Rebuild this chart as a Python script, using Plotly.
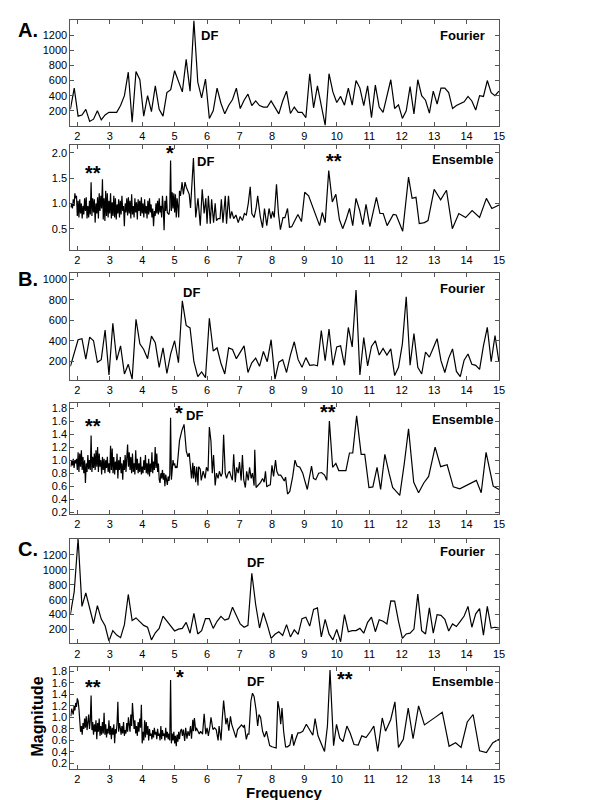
import plotly.graph_objects as go

# ---------------- DATA ----------------
# Fourier spectra: magnitude on evenly spaced frequency bins (start 1.786 Hz, bin 0.119 Hz)
fourier_start = 1.786
fourier_bin = 0.119

a_fourier = [220,500,130,145,220,60,90,200,80,145,180,180,180,270,400,710,50,720,610,130,
             400,190,530,220,130,440,480,730,580,450,880,460,1390,580,370,620,100,200,500,300,
             160,270,350,500,230,340,420,270,330,270,250,250,330,240,160,330,460,165,250,180,
             180,110,690,240,530,270,10,690,450,310,390,275,500,275,600,500,270,530,110,540,
             250,180,390,610,230,280,100,200,520,160,610,400,340,170,460,290,500,500,440,230,
             270,300,320,390,330,210,400,390,600,440,400,460]

b_fourier = [150,290,410,420,220,435,400,190,215,505,65,570,210,350,75,170,25,610,370,315,
             225,445,380,140,330,80,275,400,185,790,550,525,195,50,95,40,620,300,330,180,
             75,330,315,225,290,350,90,185,230,150,295,195,410,25,190,215,90,260,390,215,
             140,235,160,165,155,500,205,515,160,340,350,160,530,340,895,65,430,155,345,400,
             260,325,260,320,60,140,370,830,160,470,140,75,290,240,330,420,205,90,230,320,
             100,50,210,270,170,160,120,350,530,195,450,195]

c_fourier = [400,710,1420,510,690,490,280,520,340,250,45,185,125,90,265,670,320,355,310,255,
             230,60,155,215,380,310,255,180,205,215,295,150,415,140,185,345,345,215,310,375,
             325,345,500,375,275,230,255,955,535,220,425,265,80,135,170,120,265,100,195,135,
             345,365,245,470,490,100,335,140,60,200,35,400,170,185,185,215,150,295,365,170,
             330,310,275,585,580,310,80,140,150,205,675,185,140,490,150,400,390,335,180,275,
             240,310,380,510,230,410,480,125,510,220,230,220]

# Ensemble spectra: dense low-frequency part (bins of 0.025 Hz from 1.8 Hz) ...
ens_dense_start = 1.8
ens_dense_bin = 0.025

a_ens_dense = [0.92,1.0,0.9,1.08,0.95,1.2,1.1,1.15,0.75,1.05,0.72,1.08,0.8,1.0,0.7,0.95,0.78,1.1,0.85,1.12,
               0.7,0.95,0.72,1.05,0.78,1.42,0.75,1.1,0.82,1.08,0.62,1.0,0.8,1.12,0.7,1.2,0.85,1.15,0.9,1.48,
               0.68,1.1,0.65,1.25,0.75,1.2,0.72,1.05,0.8,1.2,0.7,1.02,0.75,1.15,0.72,1.1,0.68,0.98,0.8,1.08,
               0.72,1.05,0.78,1.15,0.85,0.95,0.55,1.0,0.82,1.1,0.76,1.12,0.8,1.05,0.7,1.18,0.78,0.95,0.72,1.1,
               0.82,1.02,0.68,1.08,0.85,1.05,0.75,1.12,0.8,1.0,0.72,1.08,0.8,0.95,0.7,1.05,0.78,1.1,0.82,0.98,
               0.72,0.9,0.55,0.85,0.75,1.0,0.8,1.05,0.78,1.1,0.82,0.95,0.72,1.15,0.9,0.47,1.05,0.85,1.15,0.82,
               0.8,0.78,0.9,1.85,0.85,1.22,0.9,1.2,0.82,1.18,0.72,1.1,0.95,0.72,1.25]

b_ens_dense = [0.9,1.0,0.92,1.02,0.88,1.0,0.95,1.02,0.85,1.12,0.82,1.1,0.9,1.15,0.85,1.05,0.8,1.0,0.65,0.95,
               0.82,1.08,0.86,1.0,0.85,1.38,0.82,1.05,0.88,1.1,0.85,1.15,0.9,1.2,0.82,1.1,0.9,1.0,0.78,1.05,
               0.85,1.02,0.8,1.0,0.88,1.05,0.82,0.95,0.8,1.22,0.85,1.18,0.8,1.05,0.78,0.98,0.85,1.1,0.72,1.0,
               0.85,1.05,0.8,0.95,0.7,1.0,0.85,1.08,0.82,1.0,1.24,0.9,1.12,0.85,1.05,0.8,1.1,0.82,0.95,0.78,
               1.15,0.85,1.02,0.8,0.95,0.82,1.05,0.78,0.9,0.8,1.0,0.85,1.08,0.8,0.95,0.78,1.02,0.75,0.95,0.82,
               1.12,0.8,0.98,0.85,1.2,0.88,1.1,0.82,0.95,0.7,0.65,0.8,0.72,0.85,0.7,0.8,0.6,0.78,0.7,0.62,
               0.75,0.68,0.78,1.65,0.7,0.95,1.0,0.92,0.95,0.88,0.9,0.88,1.0,1.1,1.3]

c_ens_dense = [1.02,1.15,1.1,1.05,1.2,1.12,1.25,1.18,1.33,1.28,1.15,0.95,0.75,0.85,0.7,0.9,0.8,0.98,0.82,1.02,
               0.78,0.92,1.05,0.8,0.95,1.38,0.78,0.92,0.7,0.88,0.75,0.95,0.62,0.9,0.75,0.98,0.68,0.85,0.7,0.92,
               0.72,1.08,0.7,0.88,0.65,0.8,0.72,0.95,0.7,0.85,0.62,0.82,0.7,0.88,0.55,0.8,0.72,0.9,1.27,0.75,
               0.9,0.82,0.7,0.85,0.72,0.92,0.68,0.78,0.72,0.9,0.75,1.0,0.85,0.75,1.05,0.85,1.25,0.9,0.8,0.95,
               0.72,0.85,0.68,0.92,0.75,0.98,0.82,1.22,0.55,0.75,0.6,0.95,0.65,0.92,0.7,0.85,0.6,0.8,0.68,0.72,
               0.62,0.78,0.65,0.82,0.7,0.75,0.62,0.8,0.68,0.72,0.6,0.85,0.62,0.78,0.68,0.72,0.6,0.82,0.65,0.75,
               0.62,0.72,0.6,1.65,0.55,0.72,0.6,0.75,0.55,0.68,0.5,0.7,0.58,0.75,0.62]

# ... and sparse high-frequency part (explicit frequency / magnitude pairs)
a_ens_f = [5.18,5.23,5.27,5.32,5.36,5.45,5.49,5.58,5.65,5.72,5.79,5.85,5.91,5.96,6.0,6.04,6.1,6.14,6.2,6.25,
           6.29,6.34,6.4,6.44,6.49,6.56,6.6,6.66,6.71,6.76,6.82,6.89,6.96,7.02,7.09,7.15,7.21,7.27,7.33,7.38,
           7.45,7.51,7.56,7.64,7.71,7.77,7.84,7.91,7.97,8.02,8.07,8.14,8.2,8.26,8.34,8.4,8.48,8.54,8.61,8.69,
           8.8,8.91,9.01,9.13,9.24,9.35,9.47,9.55,9.64,9.75,9.86,9.97,10.08,10.18,10.28,10.39,10.49,10.59,10.7,10.8,
           10.9,11.02,11.12,11.22,11.33,11.43,11.55,11.74,11.83,12.03,12.21,12.32,12.44,12.54,12.7,12.81,13.0,13.2,13.38,13.56,
           13.76,13.97,14.17,14.4,14.61,14.78,15.0]
a_ens_v = [1.15,1.42,1.18,1.42,1.32,1.18,0.91,1.9,0.72,1.1,0.56,1.28,0.8,1.1,0.6,1.15,0.6,1.08,0.62,1.0,
           0.66,0.7,0.7,1.08,0.62,1.15,0.6,1.15,0.7,0.84,0.7,0.77,0.62,0.74,0.66,0.8,0.77,1.0,1.33,0.8,
           0.72,0.9,1.15,0.74,0.52,0.9,0.56,0.9,0.7,0.84,0.72,1.38,0.8,0.48,0.72,0.72,0.9,0.53,0.54,0.64,
           0.78,0.64,1.22,1.15,0.97,0.77,0.56,0.82,0.62,1.65,1.03,1.18,0.68,0.5,0.67,0.9,0.56,1.1,0.87,0.58,
           0.98,0.54,0.8,1.12,0.8,0.8,0.56,0.78,0.77,0.45,1.52,1.1,1.12,0.6,0.62,0.66,1.28,1.07,1.26,0.5,
           0.8,0.72,0.86,0.72,1.1,0.9,0.97]

b_ens_f = [5.22,5.29,5.36,5.41,5.45,5.49,5.52,5.56,5.58,5.61,5.65,5.68,5.72,5.74,5.79,5.82,5.88,5.94,5.98,6.03,
           6.07,6.12,6.16,6.2,6.25,6.29,6.34,6.38,6.43,6.47,6.51,6.56,6.6,6.65,6.69,6.74,6.78,6.82,6.87,6.91,
           6.96,7.0,7.05,7.09,7.13,7.18,7.22,7.27,7.31,7.36,7.4,7.45,7.47,7.51,7.58,7.65,7.71,7.76,7.8,7.84,
           7.89,7.95,8.0,8.05,8.11,8.15,8.2,8.27,8.31,8.38,8.42,8.48,8.55,8.64,8.71,8.77,8.86,8.95,9.01,9.09,
           9.15,9.22,9.28,9.35,9.44,9.53,9.62,9.69,9.77,9.87,9.97,10.06,10.17,10.28,10.39,10.49,10.61,10.75,10.86,10.99,
           11.11,11.24,11.35,11.48,11.61,11.72,11.83,11.94,12.08,12.21,12.37,12.52,12.68,12.83,13.03,13.2,13.4,13.59,13.79,14.3,
           14.45,14.6,14.82,15.0]
b_ens_v = [1.45,1.55,1.14,1.05,1.11,0.94,0.72,0.96,0.72,0.91,0.66,0.9,0.61,0.9,0.86,0.69,0.83,0.72,0.89,0.83,
           1.51,1.29,0.8,1.08,0.61,0.8,0.72,0.83,0.75,0.8,1.39,0.8,0.72,0.8,0.83,0.75,0.69,1.09,0.66,0.89,
           0.8,0.97,0.69,1.08,0.7,0.58,0.83,0.69,0.89,0.72,0.8,0.61,1.16,0.58,0.62,0.66,0.72,0.66,0.83,0.59,
           0.61,0.62,0.92,0.75,1.0,0.83,0.77,0.77,0.74,0.68,0.74,0.48,0.52,0.75,1.0,0.91,0.89,0.8,0.69,0.55,
           0.72,0.91,0.72,0.7,0.8,0.81,0.77,0.69,1.6,0.89,0.95,0.84,0.84,0.84,1.11,1.11,1.68,1.09,1.09,0.58,
           0.59,0.89,0.55,1.09,0.8,0.58,0.52,0.46,0.95,1.48,0.66,0.5,0.65,0.75,1.2,0.9,0.93,0.59,0.56,0.69,
           0.5,1.12,0.6,0.55]

c_ens_f = [5.18,5.21,5.24,5.27,5.31,5.34,5.38,5.41,5.45,5.49,5.52,5.56,5.58,5.61,5.65,5.67,5.72,5.76,5.8,5.86,
           5.91,5.96,6.0,6.04,6.09,6.12,6.18,6.23,6.28,6.34,6.37,6.43,6.47,6.51,6.58,6.62,6.67,6.72,6.76,6.82,
           6.89,6.94,7.0,7.06,7.12,7.15,7.21,7.25,7.29,7.35,7.4,7.45,7.51,7.56,7.6,7.65,7.71,7.77,7.83,7.87,
           7.93,8.0,8.07,8.13,8.18,8.23,8.27,8.31,8.36,8.42,8.48,8.55,8.62,8.67,8.73,8.8,8.86,8.95,9.06,9.16,
           9.26,9.33,9.42,9.53,9.62,9.71,9.79,9.9,9.99,10.09,10.19,10.31,10.41,10.53,10.66,10.77,10.9,11.04,11.14,11.26,
           11.4,11.5,11.66,11.79,11.9,12.05,12.2,12.35,12.52,12.7,12.88,13.03,13.25,13.46,13.66,13.83,14.02,14.2,14.4,14.61,
           14.81,15.0]
c_ens_v = [0.76,0.8,0.68,0.79,0.59,0.82,0.63,0.76,0.68,0.85,0.63,0.96,0.76,0.99,0.76,0.82,0.76,0.71,0.76,0.71,
           1.06,0.71,0.82,0.68,0.85,1.0,0.79,0.82,0.79,0.6,0.85,0.6,0.99,1.29,0.88,0.99,0.77,1.02,0.88,0.79,
           0.65,0.79,0.83,0.87,0.83,0.87,0.62,0.71,0.71,1.28,1.42,1.36,1.13,0.85,1.05,1.0,0.76,0.66,0.76,0.66,
           0.51,0.49,0.48,0.47,1.28,1.13,0.88,1.16,0.76,0.49,0.49,0.52,0.71,0.51,0.62,0.73,0.73,0.76,0.88,0.79,
           0.69,0.98,0.68,0.53,0.41,0.85,1.82,0.51,0.88,0.64,0.58,0.85,0.73,0.53,0.52,0.68,0.65,0.76,0.85,0.41,
           0.99,0.76,0.96,1.27,0.48,0.62,1.16,0.63,1.2,0.87,0.95,1.0,1.09,0.5,0.56,0.48,0.92,1.05,0.42,0.39,
           0.56,0.62]

x_ticks = [2,3,4,5,6,7,8,9,10,11,12,13,14,15]
fourier_ticks = {"A": [200,400,600,800,1000,1200], "B": [200,400,600,800,1000], "C": [200,400,600,800,1000,1200]}
ensemble_ticks = {"A": [0.5,1.0,1.5,2.0], "B": [0.2,0.4,0.6,0.8,1.0,1.2,1.4,1.6,1.8], "C": [0.2,0.4,0.6,0.8,1.0,1.2,1.4,1.6,1.8]}

# ---------------- BUILD ----------------
def fourier_xy(vals):
    return [round(fourier_start + fourier_bin * i, 3) for i in range(len(vals))], vals

def ens_xy(dense, sf, sv):
    x = [round(ens_dense_start + ens_dense_bin * i, 3) for i in range(len(dense))] + sf
    return x, dense + sv

series = [fourier_xy(a_fourier), ens_xy(a_ens_dense, a_ens_f, a_ens_v),
          fourier_xy(b_fourier), ens_xy(b_ens_dense, b_ens_f, b_ens_v),
          fourier_xy(c_fourier), ens_xy(c_ens_dense, c_ens_f, c_ens_v)]

W, H = 600, 800
px_left, px_right = 63, 496
boxes = [(10, 117), (136, 242), (265, 373), (396, 508), (534, 639), (663, 766)]
yranges = [[0, 1400], [0.08, 2.16], [19, 1065], [0.18, 1.885], [13, 1410], [0.1, 1.87]]
ytickvals = [fourier_ticks["A"], ensemble_ticks["A"], fourier_ticks["B"], ensemble_ticks["B"],
             fourier_ticks["C"], ensemble_ticks["C"]]
ytickfmt = [None, ".1f", None, ".1f", None, ".1f"]

FONT = "Arial, Liberation Sans, sans-serif"
fig = go.Figure()
layout = dict(width=W, height=H, margin=dict(l=0, r=0, t=0, b=0),
              paper_bgcolor="white", plot_bgcolor="white", showlegend=False,
              font=dict(family=FONT, size=11, color="black"))

for k, ((x, y), (top, bot)) in enumerate(zip(series, boxes)):
    n = k + 1
    xa = "x" if n == 1 else f"x{n}"
    ya = "y" if n == 1 else f"y{n}"
    fig.add_trace(go.Scatter(x=x, y=y, mode="lines", line=dict(color="black", width=1.2),
                             xaxis=xa, yaxis=ya, hoverinfo="skip"))
    axcommon = dict(showline=True, linecolor="#555", linewidth=1, mirror="ticks",
                    ticks="inside", ticklen=4, tickcolor="#555", showgrid=False, zeroline=False,
                    tickfont=dict(family=FONT, size=11, color="black"))
    layout[f"xaxis{'' if n == 1 else n}"] = dict(
        domain=[px_left / W, px_right / W], range=[1.786, 15.0], anchor=ya,
        tickmode="array", tickvals=x_ticks, ticktext=[str(t) for t in x_ticks], **axcommon)
    yd = dict(domain=[(H - bot) / H, (H - top) / H], range=yranges[k], anchor=xa,
              tickmode="array", tickvals=ytickvals[k], **axcommon)
    if ytickfmt[k]:
        yd["tickformat"] = ytickfmt[k]
    layout[f"yaxis{'' if n == 1 else n}"] = yd

fig.update_layout(**layout)

def ann(n, x, y, text, size=13):
    xa = "x" if n == 1 else f"x{n}"
    ya = "y" if n == 1 else f"y{n}"
    fig.add_annotation(x=x, y=y, xref=xa, yref=ya, text=f"<b>{text}</b>", showarrow=False,
                       font=dict(family=FONT, size=size, color="black"), xanchor="center", yanchor="middle")

# panel text
ann(1, 6.06, 1200, "DF"); ann(1, 13.87, 1200, "Fourier")
ann(2, 2.48, 1.6, "**", 20); ann(2, 4.87, 2.0, "*", 20); ann(2, 5.96, 1.83, "DF")
ann(2, 9.9, 1.84, "**", 20); ann(2, 13.86, 1.86, "Ensemble")
ann(3, 5.52, 871, "DF"); ann(3, 13.87, 913, "Fourier")
ann(4, 2.48, 1.52, "**", 20); ann(4, 5.13, 1.72, "*", 20); ann(4, 5.62, 1.69, "DF")
ann(4, 9.74, 1.74, "**", 20); ann(4, 13.86, 1.62, "Ensemble")
ann(5, 7.48, 1102, "DF"); ann(5, 13.86, 1244, "Fourier")
ann(6, 2.47, 1.52, "**", 20); ann(6, 5.16, 1.7, "*", 20); ann(6, 7.48, 1.63, "DF")
ann(6, 10.24, 1.66, "**", 20); ann(6, 13.86, 1.63, "Ensemble")

# panel letters and axis titles
for lab, yy in [("A.", 20), ("B.", 271), ("C.", 544)]:
    fig.add_annotation(x=20 / W, y=1 - yy / H, xref="paper", yref="paper", text=f"<b>{lab}</b>",
                       showarrow=False, font=dict(family=FONT, size=20, color="black"),
                       xanchor="center", yanchor="middle")
fig.add_annotation(x=(px_left + px_right) / 2 / W, y=1 - 789 / H, xref="paper", yref="paper",
                   text="<b>Frequency</b>", showarrow=False, font=dict(family=FONT, size=15, color="black"),
                   xanchor="center", yanchor="middle")
fig.add_annotation(x=30 / W, y=1 - 713 / H, xref="paper", yref="paper", text="<b>Magnitude</b>",
                   textangle=-90, showarrow=False, font=dict(family=FONT, size=16, color="black"),
                   xanchor="center", yanchor="middle")

fig.write_html("out.html")
